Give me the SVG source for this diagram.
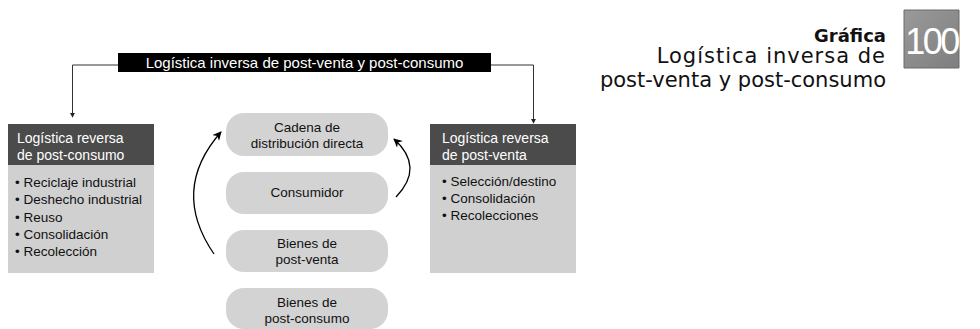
<svg xmlns="http://www.w3.org/2000/svg" width="980" height="329" viewBox="0 0 980 329">
<defs>
<marker id="sm" viewBox="0 0 6 6" refX="5" refY="3" markerWidth="5" markerHeight="5" orient="auto" markerUnits="userSpaceOnUse"><path d="M0,0 L6,3 L0,6 z" fill="#222"/></marker>
<marker id="big" viewBox="0 0 10 10" refX="9" refY="5" markerWidth="9" markerHeight="9" orient="auto" markerUnits="userSpaceOnUse"><path d="M0,0 L10,5 L0,10 L3,5 z" fill="#000"/></marker>
<linearGradient id="g100" x1="0" y1="0" x2="1" y2="1"><stop offset="0" stop-color="#9a9a9a"/><stop offset="1" stop-color="#7e7e7e"/></linearGradient>
</defs>
<style>
.t{font-family:"Liberation Sans",Arial,sans-serif;}
.hd{fill:#4b4b4b;}
.bd{fill:#d0d0d0;}
.pill{fill:#d3d3d3;}
.wh{fill:#fff;font-size:14px;}
.it{fill:#111;font-size:13.5px;}
.pt{fill:#111;font-size:13.5px;text-anchor:middle;}
.ttl{font-family:"DejaVu Sans",Verdana,sans-serif;fill:#111;text-anchor:end;}
</style>
<rect width="980" height="329" fill="#fff"/>
<g id="title">
<text class="ttl" x="886" y="42" font-size="18" font-weight="bold">Gráfica</text>
<text class="ttl" x="886" y="63" font-size="21" letter-spacing="1">Logística inversa de</text>
<text class="ttl" x="886" y="87" font-size="21">post-venta y post-consumo</text>
</g>
<g id="badge">
<rect x="904" y="10" width="55" height="58" fill="url(#g100)"/>
<path d="M904,10 h55 v58 h-55z" fill="none" stroke="#6a6a6a" stroke-width="1"/>
<text class="t" x="931.5" y="54" font-size="36" fill="#fff" text-anchor="middle" letter-spacing="-2.5">100</text>
</g>
<g id="connectors" fill="none">
<polyline points="118,65 72.5,65 72.5,117" stroke="#333" stroke-width="1" marker-end="url(#sm)"/>
<polyline points="491,65 533.5,65 533.5,123" stroke="#333" stroke-width="1" marker-end="url(#sm)"/>
<path d="M214,254 Q170,190 221,132" stroke="#000" stroke-width="1.3" marker-end="url(#big)"/>
<path d="M396,197 Q425,167 394,139" stroke="#000" stroke-width="1.3" marker-end="url(#big)"/>
</g>
<g id="top-label">
<rect x="118" y="53" width="373" height="19" fill="#000"/>
<text class="t" x="304.5" y="67.5" font-size="15" fill="#fff" text-anchor="middle">Logística inversa de post-venta y post-consumo</text>
</g>
<g id="left-box">
<rect class="hd" x="8" y="124" width="146" height="41"/>
<rect class="bd" x="8" y="165" width="146" height="108"/>
<text class="t wh" x="17" y="143">Logística reversa</text>
<text class="t wh" x="17" y="160">de post-consumo</text>
<text class="t it" x="15" y="187">• Reciclaje industrial</text>
<text class="t it" x="15" y="204">• Deshecho industrial</text>
<text class="t it" x="15" y="222">• Reuso</text>
<text class="t it" x="15" y="239">• Consolidación</text>
<text class="t it" x="15" y="256">• Recolección</text>
</g>
<g id="right-box">
<rect class="hd" x="430" y="124" width="146" height="41"/>
<rect class="bd" x="430" y="165" width="146" height="108"/>
<text class="t wh" x="442" y="143">Logística reversa</text>
<text class="t wh" x="442" y="160">de post-venta</text>
<text class="t it" x="442" y="186">• Selección/destino</text>
<text class="t it" x="442" y="203">• Consolidación</text>
<text class="t it" x="442" y="220">• Recolecciones</text>
</g>
<g id="cadena">
<rect class="pill" x="226" y="113" width="162" height="43" rx="18"/>
<text class="t pt" x="307" y="132">Cadena de</text>
<text class="t pt" x="307" y="148">distribución directa</text>
</g>
<g id="consumidor">
<rect class="pill" x="226" y="172" width="162" height="42" rx="18"/>
<text class="t pt" x="307" y="197">Consumidor</text>
</g>
<g id="bienes-post-venta">
<rect class="pill" x="226" y="230" width="162" height="42" rx="18"/>
<text class="t pt" x="307" y="248">Bienes de</text>
<text class="t pt" x="307" y="264">post-venta</text>
</g>
<g id="bienes-post-consumo">
<rect class="pill" x="226" y="288" width="162" height="41" rx="18"/>
<text class="t pt" x="307" y="307">Bienes de</text>
<text class="t pt" x="307" y="323">post-consumo</text>
</g>
</svg>
